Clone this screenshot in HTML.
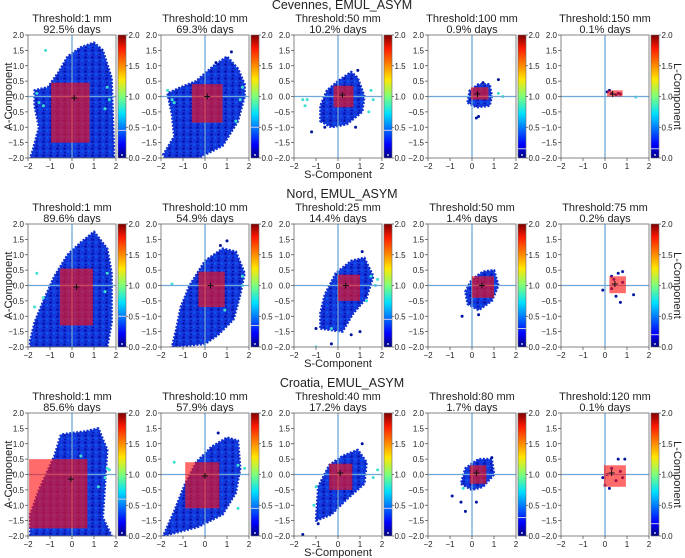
<!DOCTYPE html>
<html><head><meta charset="utf-8"><style>
body{margin:0;background:#fff;}
svg{display:block;font-family:"Liberation Sans","DejaVu Sans",sans-serif;}
</style></head><body>
<svg id="fig" width="685" height="558" viewBox="0 0 685 558" xmlns="http://www.w3.org/2000/svg">
<defs>
<linearGradient id="jet" x1="0" y1="1" x2="0" y2="0">
<stop offset="0" stop-color="#00007f"/><stop offset="0.11" stop-color="#0000ff"/>
<stop offset="0.36" stop-color="#00e0ff"/><stop offset="0.5" stop-color="#7dff7a"/>
<stop offset="0.64" stop-color="#ffe600"/><stop offset="0.89" stop-color="#ff1a00"/>
<stop offset="1" stop-color="#7f0000"/></linearGradient>
<pattern id="speckle" width="7" height="7" patternUnits="userSpaceOnUse">
<rect width="7" height="7" fill="#1438dc"/>
<circle cx="1.5" cy="1.5" r="1.3" fill="#0010a8"/>
<circle cx="5" cy="4.5" r="1.2" fill="#0a58f0"/>
<circle cx="2" cy="5.5" r="0.8" fill="#00009a"/>
</pattern>
</defs>
</svg>
<script>
const rowTitles=["Cevennes, EMUL_ASYM","Nord, EMUL_ASYM","Croatia, EMUL_ASYM"];
const thresholds=[["1 mm","10 mm","50 mm","100 mm","150 mm"],["1 mm","10 mm","25 mm","50 mm","75 mm"],["1 mm","10 mm","40 mm","80 mm","120 mm"]];
const pctDays=[["92.5","69.3","10.2","0.9","0.1"],["89.6","54.9","14.4","1.4","0.2"],["85.6","57.9","17.2","1.7","0.1"]];
const ticks=[-2,-1,0,1,2];
const yTicks=["2.0","1.5","1.0","0.5","0.0","−0.5","−1.0","−1.5","−2.0"];
const cbTicks=["2.0","1.5","1.0","0.5","0.0"];
const clouds=[
[[[-1.9,-2],[1.9,-2],[1.9,-1.6],[1.8,0.6],[1.4,1.5],[1.0,1.75],[0.4,1.6],[-0.2,1.3],[-0.6,0.8],[-1.1,0.3],[-1.7,0.2],[-1.7,-0.3],[-1.5,-1.0],[-1.8,-1.8]],
 [[-1.8,-2],[-0.3,-2],[0.8,-1.6],[1.5,-0.8],[1.8,0],[1.8,0.4],[1.5,0.9],[1.0,1.3],[0.4,1.0],[-0.4,0.5],[-1.1,0.3],[-1.7,0.1],[-1.5,-0.6],[-1.4,-1.3],[-1.9,-1.9]],
 [[-0.8,-0.8],[-0.3,-1.0],[0.4,-0.9],[1.1,-0.5],[1.2,0],[0.9,0.6],[0.6,0.8],[0.0,0.5],[-0.5,0.2],[-0.8,-0.3]],
 [[-0.2,-0.2],[0.2,-0.35],[0.8,-0.3],[0.9,0],[0.8,0.4],[0.3,0.4],[-0.1,0.2]],
 []],
[[[-1.9,-2],[1.6,-2],[1.8,-1.2],[1.8,0.4],[1.6,1.2],[1.0,1.75],[0.4,1.4],[-0.2,1.0],[-0.8,0.3],[-1.3,-0.5],[-1.7,-1.2],[-1.9,-1.8]],
 [[-1.5,-2],[0.0,-1.9],[0.6,-1.6],[1.3,-1.1],[1.6,-0.3],[1.8,0.4],[1.4,1.1],[0.8,1.2],[0.0,0.8],[-0.7,0.0],[-1.1,-0.7],[-1.3,-1.4]],
 [[-0.8,-1.4],[0.2,-1.5],[0.7,-0.9],[1.3,-0.4],[1.6,0.3],[1.2,0.9],[0.6,0.8],[-0.1,0.4],[-0.6,-0.3],[-0.8,-0.9]],
 [[-0.2,-0.6],[0.3,-0.8],[0.9,-0.5],[1.2,0],[1.0,0.5],[0.5,0.45],[0.0,0.2],[-0.3,-0.2]],
 []],
[[[-1.9,-2],[1.8,-2],[1.4,-1.4],[1.5,-0.3],[1.6,0.8],[1.2,1.5],[0.6,1.4],[-0.5,1.3],[-0.8,0.6],[-1.5,-0.5],[-1.9,-1.3]],
 [[-1.9,-2],[-0.3,-1.7],[0.8,-1.3],[1.4,-0.6],[1.6,0.2],[1.5,1.1],[1.0,1.2],[0.3,0.9],[-0.4,0.4],[-0.9,-0.3],[-1.4,-1.2]],
 [[-1.0,-1.5],[-0.3,-1.3],[0.4,-0.8],[1.2,-0.3],[1.3,0.4],[0.9,0.8],[0.2,0.6],[-0.4,0.3],[-0.9,-0.4]],
 [[-0.5,-0.3],[0.0,-0.5],[0.5,-0.4],[1.0,0.0],[0.9,0.5],[0.3,0.5],[-0.3,0.2]],
 []]];
const rects=[
[[-0.95,0.8,-1.5,0.45],[-0.6,0.8,-0.85,0.4],[-0.2,0.7,-0.35,0.35],[-0.05,0.75,-0.1,0.3],[0.1,0.8,0,0.2]],
[[-0.55,0.95,-1.3,0.55],[-0.3,0.9,-0.7,0.45],[0,1,-0.5,0.35],[0,1,-0.4,0.3],[0.2,0.95,-0.25,0.3]],
[[-1.95,0.7,-1.75,0.5],[-0.9,0.65,-1.1,0.4],[-0.4,0.65,-0.5,0.35],[-0.1,0.65,-0.3,0.3],[-0.05,0.95,-0.4,0.3]]];
const centers=[
[[0.1,-0.05],[0.1,0],[0.2,0.05],[0.25,0.08],[0.35,0.08]],
[[0.2,-0.05],[0.25,0],[0.35,0],[0.45,0],[0.45,0.05]],
[[-0.05,-0.15],[0,-0.05],[0.1,0.05],[0.2,0.05],[0.3,0.05]]];
const points=[
[[],[[1.2,1.45],[0.5,1.1]],[[-1.2,-1.15],[0.9,0.85],[0.8,-1.0],[-0.6,-1.0]],[[0.2,-0.7],[0.3,-0.65],[1.2,0.55],[0.5,0.45]],[[0.1,0.15],[0.2,0.2],[0.3,0.1],[0.5,0.05],[0.6,0.1],[0.7,0.08]]],
[[],[[1.0,1.45],[0.7,1.3]],[[-1.0,-1.4],[1.1,1.1],[-0.3,-1.9],[0.6,-1.6],[1.0,-1.5]],[[-0.45,-1.0],[0.3,-0.95]],[[0.3,0.3],[0.6,0.4],[0.8,0.45],[-0.1,-0.15],[1.3,-0.3],[0.7,-0.55],[0.5,-0.35],[0.4,0.2],[0.8,0.1],[0.3,-0.1]]],
[[],[[0.6,1.35]],[[-1.6,-1.95],[1.1,1.0],[-0.9,-1.6]],[[-0.9,-0.7],[-0.3,-1.2],[-0.5,-0.9],[0.2,-0.9],[0.9,0.55]],[[0.6,0.5],[0.9,0.5],[-0.1,-0.1],[0.0,-0.35],[0.2,-0.45],[0.5,-0.2],[0.7,0.1],[0.3,0.2],[0.1,0.0],[0.8,-0.1]]]];
const hiPoints=[
[[[-1.6,0.1],[-1.5,-0.2],[-1.3,-0.3],[1.6,0.3],[1.7,-0.1],[1.5,-0.4],[-1.2,1.5]],[[-1.7,0.2],[-1.4,-0.2],[1.7,0.3],[1.6,-0.1],[1.4,-0.8],[-1.5,-0.1]],[[-1.6,-0.1],[-1.4,-0.1],[-1.5,-0.3],[1.5,0.2],[1.6,-0.1],[1.4,-0.5]],[[1.2,0.1],[1.4,0]],[[1.4,-0.02]]],
[[[-1.6,0.4],[-1.7,-0.7],[1.6,0.4],[1.5,-0.2],[-1.3,-0.4]],[[-1.5,0.05],[1.7,0.3],[1.7,0],[0.9,-0.8]],[[1.5,0.3],[1.7,0],[1.8,0.2],[1.3,-0.5],[-1.0,-2.0],[-0.3,-1.4]],[],[]],
[[[1.6,0.2],[1.7,0.15],[1.5,-0.1],[0.4,0.6],[1.2,-0.4]],[[-1.4,0.4],[1.5,0.3],[1.8,0.2],[1.5,-1.1]],[[1.8,0.15],[1.6,-0.1],[-1.1,-1.0],[-1.0,-0.4]],[[-0.4,-0.45]],[]]];
const cbLine=[[0.45,0.5,0.45,0.15,0.15],[0.5,0.35,0.45,0.3,0.2],[0.6,0.45,0.45,0.3,0.2]];

const svg=document.getElementById('fig');
const NS='http://www.w3.org/2000/svg';
const colLeft=[28,161,294,428,561], rowTop=[35,224,413], W=88, H=123;
function mk(tag,attrs,parent){const e=document.createElementNS(NS,tag);for(const k in attrs)e.setAttribute(k,attrs[k]);(parent||svg).appendChild(e);return e;}
function txt(s,x,y,size,anchor,parent,rot){const e=mk('text',{x:x,y:y,'font-size':size,'text-anchor':anchor||'middle',fill:'#222'},parent);if(rot)e.setAttribute('transform','rotate('+rot+' '+x+' '+y+')');e.textContent=s;return e;}

for(let r=0;r<3;r++){
  const st=txt(rowTitles[r],342,rowTop[r]-26,12.5,'middle');
  
  
  for(let c=0;c<5;c++){
    const L=colLeft[c],T=rowTop[r];
    const sx=v=>L+(v+2)/4*W, sy=v=>T+(2-v)/4*H;
    const g=mk('g',{});
    
    
    const clip=mk('clipPath',{id:'cl'+r+c},g);mk('rect',{x:L,y:T,width:W,height:H},clip);
    const pg=mk('g',{'clip-path':'url(#cl'+r+c+')'},g);
    const cl=clouds[r][c];
    if(cl.length){
      const poly=mk('polygon',{points:cl.map(p=>sx(p[0])+','+sy(p[1])).join(' '),fill:'url(#speckle)',stroke:'#1030d0','stroke-width':2.5,'stroke-linejoin':'round','stroke-dasharray':'2 1.5'},pg);
      
      
    }
    points[r][c].forEach(p=>{const d=mk('circle',{cx:sx(p[0]),cy:sy(p[1]),r:1.5,fill:'#00149e'},pg);
      
      });
    hiPoints[r][c].forEach(p=>{const d=mk('circle',{cx:sx(p[0]),cy:sy(p[1]),r:1.5,fill:'#3ee0d0'},pg);
      
      });
    mk('line',{x1:sx(0),x2:sx(0),y1:T,y2:T+H,stroke:'#6ea8d8','stroke-width':1.3},pg);
    mk('line',{x1:L,x2:L+W,y1:sy(0),y2:sy(0),stroke:'#6ea8d8','stroke-width':1.3},pg);
    const q=rects[r][c];
    const rc=mk('rect',{x:sx(q[0]),y:sy(q[3]),width:sx(q[1])-sx(q[0]),height:sy(q[2])-sy(q[3]),fill:'#ff1010','fill-opacity':0.62},pg);
    
    
    const ce=centers[r][c];
    mk('path',{d:'M'+(sx(ce[0])-3)+','+sy(ce[1])+'h6M'+sx(ce[0])+','+(sy(ce[1])-3)+'v6',stroke:'#111','stroke-width':1},pg);
    mk('rect',{x:L,y:T,width:W,height:H,fill:'none',stroke:'#666','stroke-width':0.8},g);
    ticks.forEach(t=>{mk('line',{x1:sx(t),x2:sx(t),y1:T+H,y2:T+H+3,stroke:'#444','stroke-width':0.7},g);
      txt(t<0?'−'+(-t):String(t),sx(t),T+H+11,8,'middle',g);});
    yTicks.forEach((s,i)=>{const y=T+i*H/8;mk('line',{x1:L-3,x2:L,y1:y,y2:y,stroke:'#444','stroke-width':0.7},g);
      txt(s,L-4,y+3,8,'end',g);});
    const t1=txt('Threshold:'+thresholds[r][c],L+W/2,T-13,11,'middle',g);
    
    
    txt(pctDays[r][c]+'% days',L+W/2,T-2,11,'middle',g);
    const cx=L+90;
    const cb=mk('rect',{x:cx,y:T,width:8,height:H,fill:'url(#jet)',stroke:'#666','stroke-width':0.6},g);
    
    
    const ly=T+H-cbLine[r][c]/2*H;
    mk('line',{x1:cx,x2:cx+8,y1:ly,y2:ly,stroke:'#cce','stroke-width':1},g);
    mk('circle',{cx:cx+4,cy:T+H-3,r:0.9,fill:'#fff'},g);
    cbTicks.forEach((s,i)=>{const y=T+i*H/4;mk('line',{x1:cx+8,x2:cx+10,y1:y,y2:y,stroke:'#444','stroke-width':0.7},g);
      txt(s,cx+10.5,y+3,8,'start',g);});
    if(c===0){const a=txt('A-Component',12,T+H/2,11,'middle',g,-90);}
    if(c===2){const a=txt('S-Component',L+W/2,T+H+20,11,'middle',g);}
    if(c===4){const a=txt('L-Component',674,T+H/2,11,'middle',g,90);}
  }
}
</script>
</body></html>
